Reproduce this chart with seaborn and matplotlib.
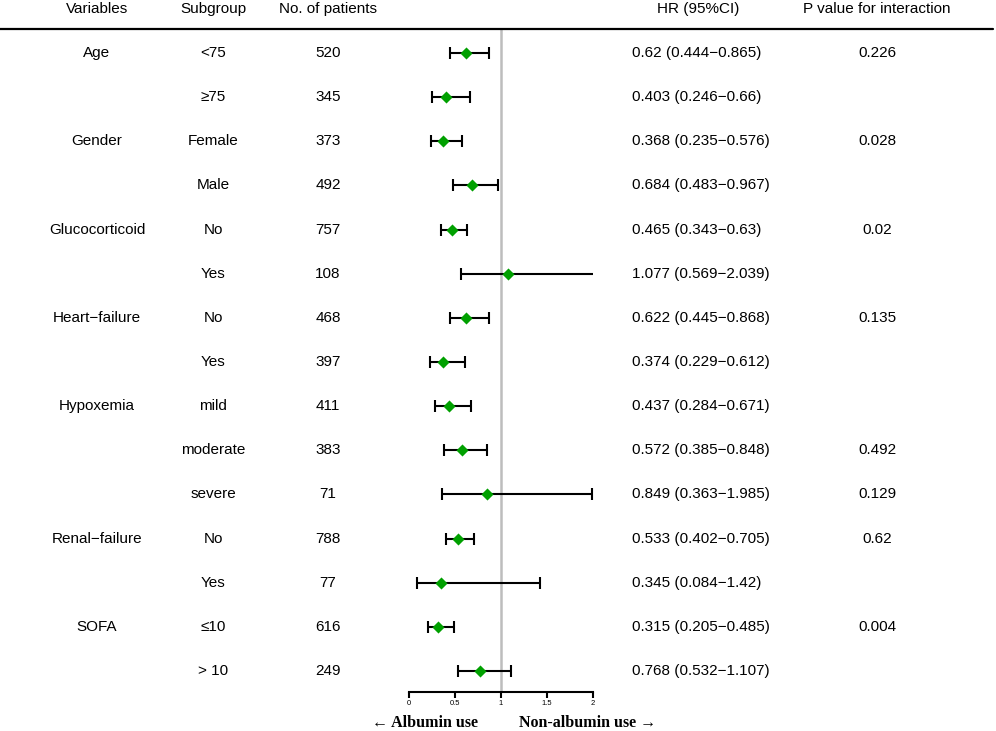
import matplotlib
matplotlib.use("Agg")
import matplotlib.pyplot as plt
import matplotlib.transforms as mtransforms
from matplotlib.lines import Line2D
import seaborn as sns
import pandas as pd

variables = ["Age", "", "Gender", "", "Glucocorticoid", "", "Heart\u2212failure", "",
             "Hypoxemia", "", "", "Renal\u2212failure", "", "SOFA", ""]
subgroups = ["<75", "\u226575", "Female", "Male", "No", "Yes", "No", "Yes",
             "mild", "moderate", "severe", "No", "Yes", "\u226410", "> 10"]
patients = [520, 345, 373, 492, 757, 108, 468, 397, 411, 383, 71, 788, 77, 616, 249]
hr = [0.62, 0.403, 0.368, 0.684, 0.465, 1.077, 0.622, 0.374, 0.437, 0.572, 0.849,
      0.533, 0.345, 0.315, 0.768]
lower = [0.444, 0.246, 0.235, 0.483, 0.343, 0.569, 0.445, 0.229, 0.284, 0.385, 0.363,
         0.402, 0.084, 0.205, 0.532]
upper = [0.865, 0.66, 0.576, 0.967, 0.63, 2.039, 0.868, 0.612, 0.671, 0.848, 1.985,
         0.705, 1.42, 0.485, 1.107]
pvals = ["0.226", "", "0.028", "", "0.02", "", "0.135", "", "", "0.492", "0.129",
         "0.62", "", "0.004", ""]
headers = ["Variables", "Subgroup", "No. of patients", "HR (95%CI)", "P value for interaction"]
xticks = [0, 0.5, 1, 1.5, 2]

df = pd.DataFrame({"row": range(len(hr)), "hr": hr, "lo": lower, "hi": upper})

sns.set_style("white")
plt.rcParams["font.family"] = ["Liberation Sans", "DejaVu Sans"]
plt.rcParams["text.color"] = "black"
plt.rcParams["xtick.color"] = "black"
plt.rcParams["axes.labelcolor"] = "black"

W, H = 996, 731
fig = plt.figure(figsize=(W / 100, H / 100), dpi=100)
ax = fig.add_axes([409 / W, (H - 692) / H, 184 / W, (692 - 29) / H])

row0_px, step_px = 53, 44.14
ytop = (29 - row0_px) / step_px
ybot = (692 - row0_px) / step_px

# reference line
ax.axvline(1, color="#bdbdbd", lw=1.8, zorder=1)

ax.errorbar(df["hr"], df["row"],
            xerr=[df["hr"] - df["lo"], df["hi"] - df["hr"]],
            fmt="none", ecolor="black", elinewidth=1.5, capsize=4.6, capthick=1.5, zorder=2)
sns.scatterplot(data=df, x="hr", y="row", marker="D", s=38, color="#00a000",
                linewidth=0, ax=ax, zorder=3, legend=False)

ax.set_xlim(0, 2)
ax.set_ylim(ybot, ytop)
ax.set_xticks(xticks)
ax.set_xticklabels([f"{t:g}" for t in xticks], fontsize=5.5, color="black")
ax.set_yticks([])
ax.set_xlabel("")
ax.set_ylabel("")
for s in ["top", "left", "right"]:
    ax.spines[s].set_visible(False)
ax.spines["bottom"].set_linewidth(1.5)
ax.spines["bottom"].set_color("black")
ax.tick_params(axis="x", direction="out", length=4, width=1.5, color="black", pad=2,
               bottom=True)
ax.patch.set_alpha(0)

tr = mtransforms.blended_transform_factory(fig.transFigure, ax.transData)
fs = 11
col_x = [97 / W, 213 / W, 328 / W, 698 / W, 877 / W]
hr_left = 632 / W
head_y = ytop - (29 - 9) / step_px

for x, h in zip(col_x, headers):
    ax.text(x, head_y, h, transform=tr, ha="center", va="center", fontsize=fs, clip_on=False)

fig.add_artist(Line2D([0, 0.997], [1 - 29 / H, 1 - 29 / H], transform=fig.transFigure,
                      color="black", lw=1.6))

for i in range(len(hr)):
    ax.text(col_x[0], i, variables[i], transform=tr, ha="center", va="center", fontsize=fs, clip_on=False)
    ax.text(col_x[1], i, subgroups[i], transform=tr, ha="center", va="center", fontsize=fs, clip_on=False)
    ax.text(col_x[2], i, str(patients[i]), transform=tr, ha="center", va="center", fontsize=fs, clip_on=False)
    ax.text(hr_left, i, f"{hr[i]} ({lower[i]}\u2212{upper[i]})", transform=tr,
            ha="left", va="center", fontsize=fs, clip_on=False)
    ax.text(col_x[4], i, pvals[i], transform=tr, ha="center", va="center", fontsize=fs, clip_on=False)

trb = mtransforms.blended_transform_factory(ax.transData, ax.transAxes)
serif = ["Liberation Serif", "DejaVu Serif"]
ax.text(0.75, -31 / 663, "\u2190 Albumin use", transform=trb, ha="right", va="center",
        fontsize=11.5, fontweight="bold", family=serif, clip_on=False)
ax.text(1.195, -31 / 663, "Non-albumin use \u2192", transform=trb, ha="left", va="center",
        fontsize=11.5, fontweight="bold", family=serif, clip_on=False)

fig.savefig("out.png", dpi=100)
